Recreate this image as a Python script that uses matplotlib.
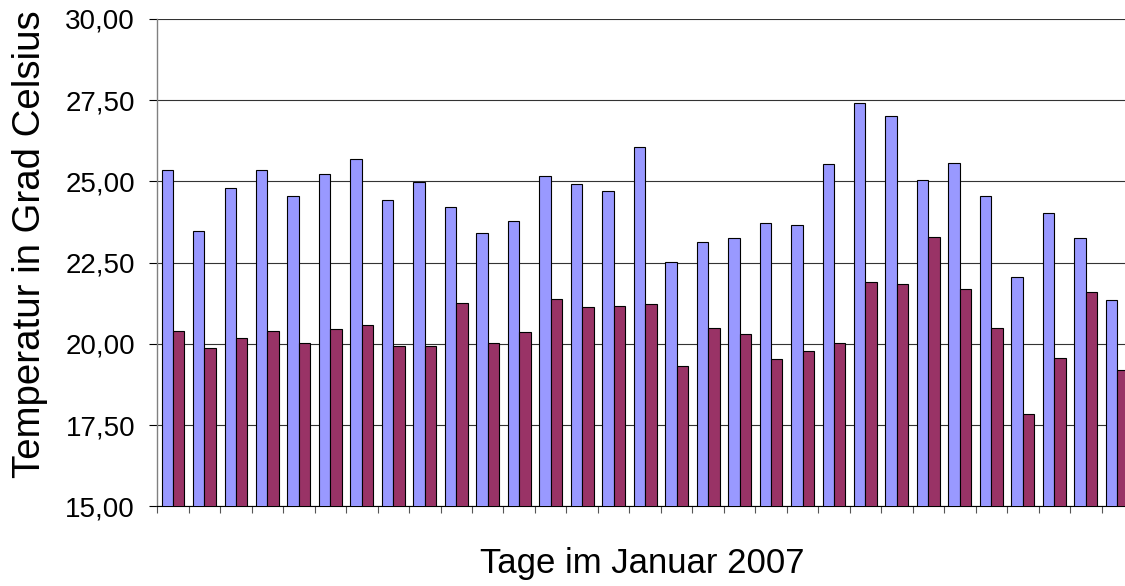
import matplotlib
matplotlib.use('Agg')
import matplotlib.pyplot as plt
import numpy as np

plt.rcParams['font.family'] = ['Liberation Sans', 'DejaVu Sans']

# Tage im Januar 2007
tage = list(range(1, 32))
temp_blau = [25.34, 23.46, 24.81, 25.34, 24.55, 25.22, 25.70, 24.44, 24.97, 24.20,
             23.41, 23.77, 25.17, 24.91, 24.71, 26.06, 22.52, 23.15, 23.25, 23.73,
             23.67, 25.54, 27.41, 27.00, 25.03, 25.58, 24.55, 22.05, 24.03, 23.25,
             21.34]
temp_rot = [20.39, 19.87, 20.19, 20.39, 20.03, 20.45, 20.59, 19.93, 19.93, 21.27,
            20.03, 20.35, 21.38, 21.12, 21.17, 21.22, 19.31, 20.50, 20.30, 19.52,
            19.77, 20.03, 21.91, 21.85, 23.30, 21.69, 20.50, 17.85, 19.56, 21.59,
            19.21]
y_ticks = [15.0, 17.5, 20.0, 22.5, 25.0, 27.5, 30.0]
y_labels = ['15,00', '17,50', '20,00', '22,50', '25,00', '27,50', '30,00']

fig = plt.figure(figsize=(11.25, 5.86), dpi=100)
ax = fig.add_axes([0.1398, 0.1360, 0.8673, 0.8316])

x = np.arange(len(tage)) + 0.5
w = 1 / 2.75
ax.bar(x - w / 2, temp_blau, width=w, bottom=0, color='#9999FF',
       edgecolor='black', linewidth=0.8, zorder=3)
ax.bar(x + w / 2, temp_rot, width=w, bottom=0, color='#993366',
       edgecolor='black', linewidth=0.8, zorder=3)

ax.set_xlim(0, len(tage))
ax.set_ylim(15, 30)
ax.set_yticks(y_ticks)
ax.set_yticklabels(y_labels)
ax.set_xticks(np.arange(len(tage) + 1))
ax.set_xticklabels([])

ax.yaxis.grid(True, color='#333333', linewidth=0.8, zorder=0)
ax.set_axisbelow(True)

for s in ['top', 'right']:
    ax.spines[s].set_visible(False)
ax.spines['left'].set_color('#808080')
ax.spines['left'].set_linewidth(1.0)
ax.spines['bottom'].set_color('black')
ax.spines['bottom'].set_linewidth(0.8)

ax.tick_params(axis='y', direction='out', length=6, width=0.8, color='black',
               labelsize=20, pad=10)
ax.tick_params(axis='x', direction='out', length=5, width=0.8, color='#555555')

fig.text(642.5 / 1125, 1 - 573.3 / 586, 'Tage im Januar 2007', fontsize=25,
         ha='center', va='baseline')
fig.text(30 / 1125, 1 - 478 / 586, 'Temperatur in Grad Celsius', fontsize=27.6,
         rotation=90, ha='center', va='bottom')

fig.savefig('out.png', dpi=100)
